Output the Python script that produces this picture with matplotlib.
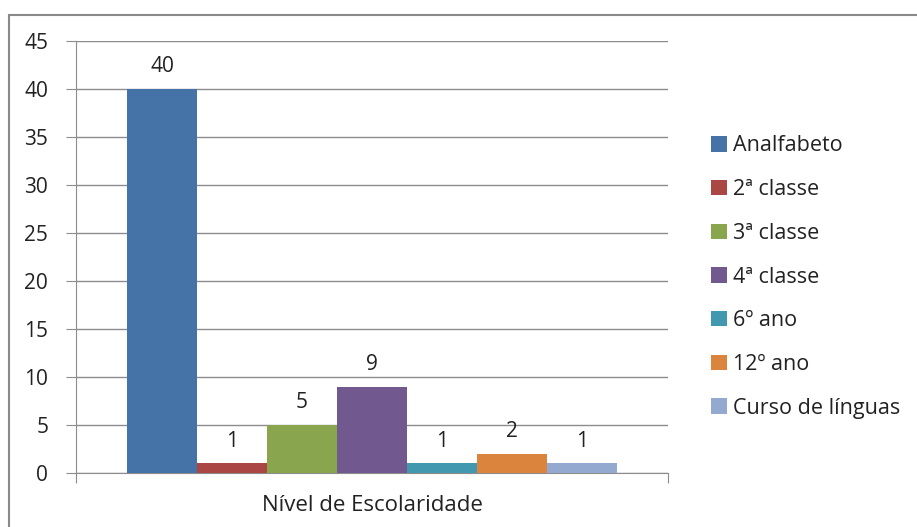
import matplotlib
matplotlib.use("Agg")
import matplotlib.pyplot as plt
from matplotlib.patches import Rectangle, Patch

# Data
categories = ["Analfabeto", "2ª classe", "3ª classe", "4ª classe",
              "6º ano", "12º ano", "Curso de línguas"]
values = [40, 1, 5, 9, 1, 2, 1]
colors = ["#4572A7", "#AA4643", "#89A54E", "#71588F",
          "#4198AF", "#DB843D", "#93A9CF"]
group_label = "Nível de Escolaridade"
yticks = list(range(0, 50, 5))

plt.rcParams['font.family'] = ['Open Sans', 'DejaVu Sans']

W, H = 917, 527
fig = plt.figure(figsize=(W / 100, H / 100), dpi=100)

# outer chart border (only left/top visible in reference)
fig.patches.append(Rectangle((9 / W, -0.1), 1.2, (H - 15) / H + 0.1,
                             transform=fig.transFigure, fill=False,
                             edgecolor="#8a8a8a", linewidth=1.5))

ax = fig.add_axes([76 / W, (H - 473) / H, (668 - 76) / W, (473 - 41) / H])

n = len(values)
group_w = 490 / 592
bar_w = group_w / n
xs = [-group_w / 2 + bar_w / 2 + i * bar_w for i in range(n)]
bars = ax.bar(xs, values, width=bar_w, color=colors, edgecolor="none", zorder=3)

for x, v in zip(xs, values):
    ax.text(x, v + 1.2, str(v), ha="center", va="bottom", fontsize=15, color="#222222")

ax.set_xlim(-0.5, 0.5)
ax.set_ylim(0, 45)
ax.set_yticks(yticks)
ax.yaxis.grid(True, color="#8c8c8c", linewidth=1, zorder=0)

ax.set_xticks([-0.5, 0.5])
ax.set_xticklabels(["", ""])
ax.text(0, -3.35, group_label, ha="center", va="center", fontsize=16, color="#222222")

ax.tick_params(axis="y", length=7, color="#8c8c8c", pad=13, labelsize=15, labelcolor="#222222")
ax.tick_params(axis="x", length=7, color="#8c8c8c")
for s in ["top", "right"]:
    ax.spines[s].set_visible(False)
for s in ["left", "bottom"]:
    ax.spines[s].set_color("#8c8c8c")

handles = [Patch(facecolor=c, edgecolor="none") for c in colors]
fig.legend(handles, categories, loc="upper left",
           bbox_to_anchor=(692 / W, (H - 116) / H), frameon=False,
           fontsize=15.5, handlelength=0.72, handleheight=0.72,
           handletextpad=0.3, labelspacing=1.055, labelcolor="#222222")

fig.savefig("out.png", dpi=100)
